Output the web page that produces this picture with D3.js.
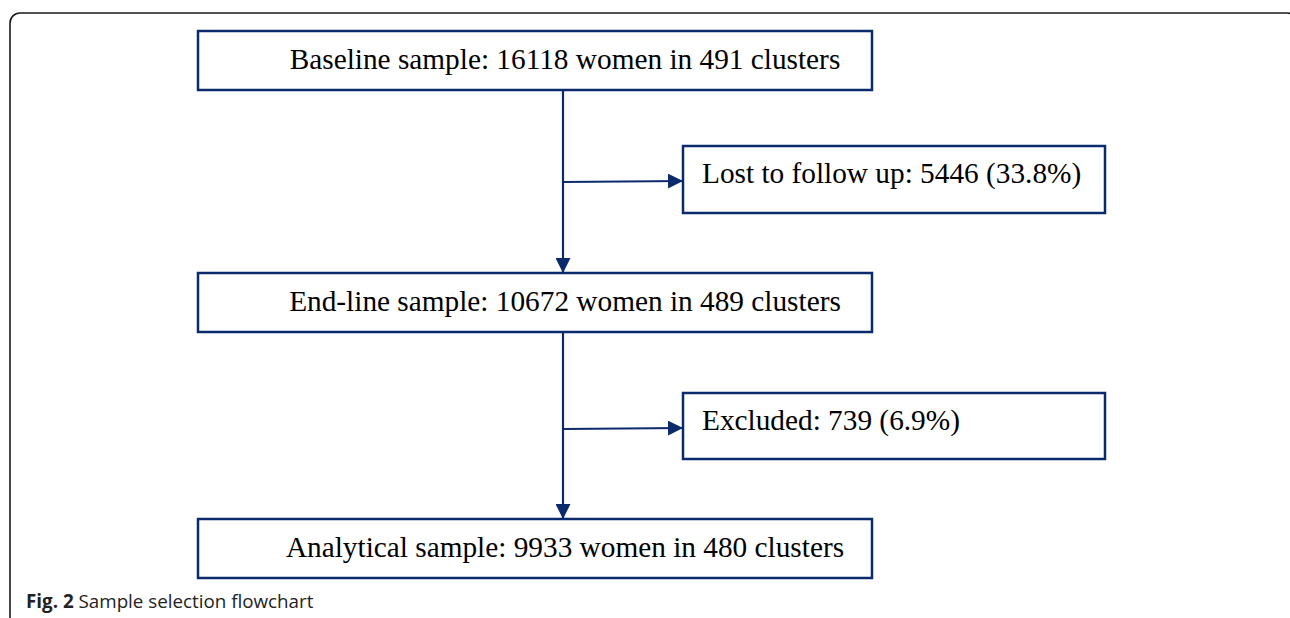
<!DOCTYPE html>
<html>
<head>
<meta charset="utf-8">
<script src="https://cdn.jsdelivr.net/npm/d3@7"></script>
<style>
  html, body { margin: 0; padding: 0; background: #fff; }
  svg { display: block; }
</style>
</head>
<body>
<script>
// flowchart content
const mainSteps = [
  "Baseline sample: 16118 women in 491 clusters",
  "End-line sample: 10672 women in 489 clusters",
  "Analytical sample: 9933 women in 480 clusters",
];
const sideSteps = [
  "Lost to follow up: 5446 (33.8%)",
  "Excluded: 739 (6.9%)",
];
const captionBold = "Fig. 2";
const captionText = " Sample selection flowchart";

const W = 1290, H = 618;
const navy = "#0b2a6b";

// rows: main, side, main, side, main
const rowY = d3.scaleOrdinal()
  .domain(["m0", "s0", "m1", "s1", "m2"])
  .range([31, 146, 273, 393, 519]);
const mainBox = { x: 198, w: 674, h: 59 };
const sideBox = { x: 683, w: 422, h: 67 };
const trunkX = 563;

const svg = d3.select("body").append("svg")
  .attr("width", W)
  .attr("height", H)
  .attr("viewBox", `0 0 ${W} ${H}`);

svg.append("defs").append("marker")
  .attr("id", "arrow")
  .attr("viewBox", "0 0 10 10")
  .attr("refX", 10)
  .attr("refY", 5)
  .attr("markerUnits", "userSpaceOnUse")
  .attr("markerWidth", 15)
  .attr("markerHeight", 15)
  .attr("orient", "auto")
  .append("path")
  .attr("d", "M0,0 L10,5 L0,10 Z")
  .attr("fill", navy);

// outer frame (rounded, runs off the right/bottom edge)
svg.append("rect")
  .attr("x", 10)
  .attr("y", 13)
  .attr("width", 1287)
  .attr("height", 700)
  .attr("rx", 10)
  .attr("fill", "none")
  .attr("stroke", "#1a1a1a")
  .attr("stroke-width", 1.6);

// trunk segments between main boxes
const links = d3.range(mainSteps.length - 1).map((i) => ({
  y1: rowY("m" + i) + mainBox.h,
  y2: rowY("m" + (i + 1)),
  side: rowY("s" + i),
}));

svg.selectAll("line.trunk")
  .data(links)
  .enter()
  .append("line")
  .attr("class", "trunk")
  .attr("x1", trunkX)
  .attr("x2", trunkX)
  .attr("y1", (d) => d.y1)
  .attr("y2", (d) => d.y2)
  .attr("stroke", navy)
  .attr("stroke-width", 2.2)
  .attr("marker-end", "url(#arrow)");

svg.selectAll("line.branch")
  .data(links)
  .enter()
  .append("line")
  .attr("class", "branch")
  .attr("x1", trunkX)
  .attr("x2", sideBox.x)
  .attr("y1", (d) => d.side + 36)
  .attr("y2", (d) => d.side + 35)
  .attr("stroke", navy)
  .attr("stroke-width", 2.2)
  .attr("marker-end", "url(#arrow)");

// main boxes
const mg = svg.selectAll("g.main")
  .data(mainSteps)
  .enter()
  .append("g")
  .attr("class", "main")
  .attr("transform", (d, i) => `translate(${mainBox.x},${rowY("m" + i)})`);

mg.append("rect")
  .attr("width", mainBox.w)
  .attr("height", mainBox.h)
  .attr("fill", "#fff")
  .attr("stroke", navy)
  .attr("stroke-width", 2.5);

mg.append("text")
  .attr("x", 367)
  .attr("y", 38)
  .attr("text-anchor", "middle")
  .style("font-family", "'Liberation Serif', 'Times New Roman', serif")
  .style("font-size", "29.3px")
  .attr("fill", "#000")
  .text((d) => d);

// side boxes
const sg = svg.selectAll("g.side")
  .data(sideSteps)
  .enter()
  .append("g")
  .attr("class", "side")
  .attr("transform", (d, i) => `translate(${sideBox.x},${rowY("s" + i)})`);

sg.append("rect")
  .attr("width", sideBox.w)
  .attr("height", (d, i) => sideBox.h - i)
  .attr("fill", "#fff")
  .attr("stroke", navy)
  .attr("stroke-width", 2.5);

sg.append("text")
  .attr("x", 19)
  .attr("y", 37)
  .style("font-family", "'Liberation Serif', 'Times New Roman', serif")
  .style("font-size", "29.3px")
  .attr("fill", "#000")
  .text((d) => d);

// caption
const cap = svg.append("text")
  .attr("x", 26)
  .attr("y", 608)
  .style("font-family", "'Open Sans', 'Noto Sans', sans-serif")
  .style("font-size", "18.8px")
  .attr("fill", "#222");
cap.append("tspan").style("font-weight", "bold").text(captionBold);
cap.append("tspan").text(captionText);
</script>
</body>
</html>
